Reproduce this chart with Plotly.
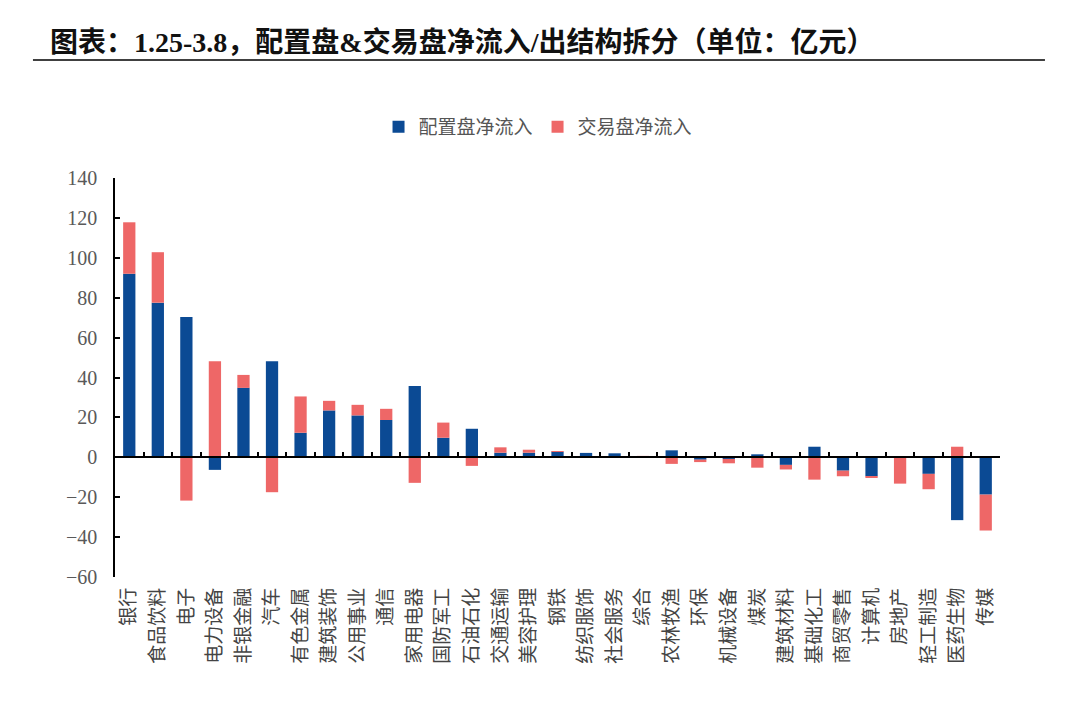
import plotly.graph_objects as go

categories = ["银行", "食品饮料", "电子", "电力设备", "非银金融", "汽车", "有色金属", "建筑装饰",
              "公用事业", "通信", "家用电器", "国防军工", "石油石化", "交通运输", "美容护理", "钢铁",
              "纺织服饰", "社会服务", "综合", "农林牧渔", "环保", "机械设备", "煤炭", "建筑材料",
              "基础化工", "商贸零售", "计算机", "房地产", "轻工制造", "医药生物", "传媒"]
config_inflow = [92.0, 77.5, 70.3, -6.3, 34.8, 48.2, 12.3, 23.5,
                 21.0, 18.7, 35.8, 9.8, 14.3, 2.3, 2.3, 2.8,
                 2.2, 2.0, 0.0, 3.5, -1.2, -0.8, 1.5, -3.8,
                 5.3, -6.7, -9.5, 0.0, -8.3, -31.5, -18.7]
trade_inflow = [25.8, 25.3, -21.7, 48.2, 6.5, -17.5, 18.2, 4.8,
                5.3, 5.6, -12.8, 7.6, -4.3, 2.7, 1.5, 0.3,
                0.0, 0.0, 0.7, -3.3, -1.2, -2.2, -5.2, -2.3,
                -11.2, -2.8, -0.5, -13.2, -7.7, 5.3, -18.0]
y_ticks = [-60, -40, -20, 0, 20, 40, 60, 80, 100, 120, 140]

BLUE = "#0b4a94"
RED = "#ee6767"
cjk = "Noto Sans CJK SC"

fig = go.Figure()
fig.add_trace(go.Bar(x=categories, y=config_inflow, name="配置盘净流入",
                     marker=dict(color=BLUE, line=dict(width=0))))
fig.add_trace(go.Bar(x=categories, y=trade_inflow, name="交易盘净流入",
                     marker=dict(color=RED, line=dict(width=0))))
# invisible trace carrying the zero-line category axis
fig.add_trace(go.Scatter(x=categories, y=[0] * len(categories), xaxis="x2", yaxis="y",
                         mode="lines", line=dict(width=0, color="rgba(0,0,0,0)"),
                         showlegend=False, hoverinfo="skip"))

fig.update_layout(
    width=1080, height=712,
    paper_bgcolor="white", plot_bgcolor="white",
    margin=dict(l=107, r=88, t=170, b=143),
    barmode="relative", bargap=0.57,
    font=dict(family=cjk, color="#404040"),
    title=dict(text="<b>图表：1.25-3.8，配置盘&交易盘净流入/出结构拆分（单位：亿元）</b>",
               x=42 / 1080, xanchor="left", xref="container",
               y=1 - 34 / 712, yanchor="middle", yref="container",
               font=dict(family="Liberation Serif, " + cjk, size=28, color="#111111")),
    legend=dict(orientation="h", x=0.478, xanchor="center", y=1.128, yanchor="middle",
                font=dict(family=cjk, size=19, color="#555555"),
                itemwidth=30, traceorder="normal"),
    xaxis=dict(type="category", categoryorder="array", categoryarray=categories,
               showline=False, ticks="", tickangle=-90, ticklabelstandoff=6,
               tickfont=dict(family=cjk, size=19, color="#444444"),
               showgrid=False, zeroline=False),
    xaxis2=dict(overlaying="x", matches="x", anchor="free", position=0.3,
                type="category", categoryorder="array", categoryarray=categories,
                showline=True, linecolor="black", linewidth=1.5,
                ticks="inside", tickson="boundaries", ticklen=5, tickcolor="black", tickwidth=1.5,
                showticklabels=False, showgrid=False, zeroline=False),
    yaxis=dict(range=[-60, 140], tickvals=y_ticks, showline=True, linecolor="black", linewidth=1.5,
               ticks="inside", ticklen=5, tickcolor="black", tickwidth=1.5,
               showgrid=False, zeroline=False, ticklabelstandoff=12,
               tickfont=dict(family="Liberation Serif", size=20, color="#595959")),
    shapes=[dict(type="line", xref="paper", yref="paper",
                 x0=-0.0927, x1=1.0508, y0=1.2957, y1=1.2957,
                 line=dict(color="black", width=1.5))],
)

fig.write_html("out.html")
